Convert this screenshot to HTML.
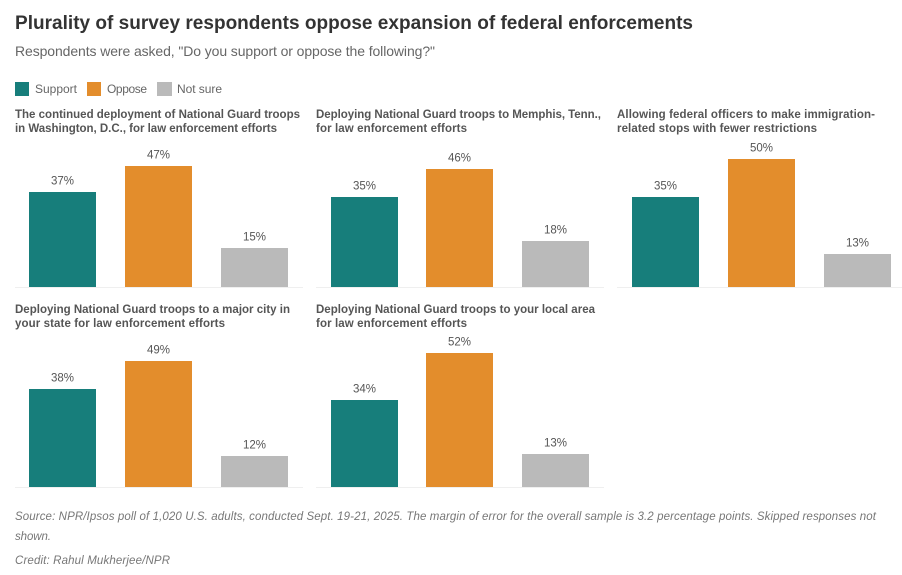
<!DOCTYPE html>
<html>
<head>
<meta charset="utf-8">
<title>Plurality of survey respondents oppose expansion of federal enforcements</title>
<style>
html,body{margin:0;padding:0;background:#fff;}
svg{display:block;font-family:"Liberation Sans",sans-serif;}
</style>
</head>
<body>
<svg id="chart" width="902" height="575" viewBox="0 0 902 575" xmlns="http://www.w3.org/2000/svg">
  <text x="15" y="29" font-size="19" font-weight="700" fill="#333" textLength="678" lengthAdjust="spacing">Plurality of survey respondents oppose expansion of federal enforcements</text>
  <text x="15" y="56" font-size="14" fill="#666" textLength="420" lengthAdjust="spacing">Respondents were asked, "Do you support or oppose the following?"</text>

  <rect x="15" y="82" width="14" height="14" fill="#177e7b"/>
  <text x="35" y="93" font-size="12" fill="#666" textLength="42" lengthAdjust="spacing">Support</text>
  <rect x="87" y="82" width="14" height="14" fill="#e38d2c"/>
  <text x="107" y="93" font-size="12" fill="#666" textLength="40" lengthAdjust="spacing">Oppose</text>
  <rect x="157" y="82" width="15" height="14" fill="#bababa"/>
  <text x="177" y="93" font-size="12" fill="#666" textLength="45" lengthAdjust="spacing">Not sure</text>

  <g font-size="11.5" font-weight="700" fill="#555">
    <text x="15" y="118" textLength="285" lengthAdjust="spacing">The continued deployment of National Guard troops</text>
    <text x="15" y="132" textLength="262" lengthAdjust="spacing">in Washington, D.C., for law enforcement efforts</text>
  </g>
  <g font-size="11.5" font-weight="700" fill="#555">
    <text x="316" y="118" textLength="285" lengthAdjust="spacing">Deploying National Guard troops to Memphis, Tenn.,</text>
    <text x="316" y="132" textLength="151" lengthAdjust="spacing">for law enforcement efforts</text>
  </g>
  <g font-size="11.5" font-weight="700" fill="#555">
    <text x="617" y="118" textLength="258" lengthAdjust="spacing">Allowing federal officers to make immigration-</text>
    <text x="617" y="132" textLength="200" lengthAdjust="spacing">related stops with fewer restrictions</text>
  </g>
  <g font-size="11.5" font-weight="700" fill="#555">
    <text x="15" y="313" textLength="275" lengthAdjust="spacing">Deploying National Guard troops to a major city in</text>
    <text x="15" y="327" textLength="210" lengthAdjust="spacing">your state for law enforcement efforts</text>
  </g>
  <g font-size="11.5" font-weight="700" fill="#555">
    <text x="316" y="313" textLength="279" lengthAdjust="spacing">Deploying National Guard troops to your local area</text>
    <text x="316" y="327" textLength="151" lengthAdjust="spacing">for law enforcement efforts</text>
  </g>

  <g id="plots"></g>

  <g font-size="11.5" font-style="italic" fill="#777">
    <text x="15" y="520" textLength="861" lengthAdjust="spacing">Source: NPR/Ipsos poll of 1,020 U.S. adults, conducted Sept. 19-21, 2025. The margin of error for the overall sample is 3.2 percentage points. Skipped responses not</text>
    <text x="15" y="540" textLength="36" lengthAdjust="spacing">shown.</text>
  </g>
  <text x="15" y="564" font-size="11.5" font-style="italic" fill="#777" textLength="155" lengthAdjust="spacing">Credit: Rahul Mukherjee/NPR</text>
</svg>
<script>
const categories = ['Support', 'Oppose', 'Not sure'];
const washington = [37, 47, 15];
const memphis = [35, 46, 18];
const immigrationStops = [35, 50, 13];
const majorCity = [38, 49, 12];
const localArea = [34, 52, 13];

const NS = 'http://www.w3.org/2000/svg';
const colors = ['#177e7b', '#e38d2c', '#bababa'];
const pxPerPoint = 2.57;
const plotWidth = 288;
const bandStep = 95.8;
const barWidth = 67;
const barInset = 14.6;

function xBand(left, i) { return Math.round(left + barInset + i * bandStep); }
function yValue(baseline, v) { return Math.round(baseline - v * pxPerPoint); }
function slug(s) { return s.toLowerCase().replace(/\s+/g, '-'); }

function drawPanel(parent, key, values, left, baseline) {
  const axis = document.createElementNS(NS, 'rect');
  
  
  axis.setAttribute('x', Math.round(left));
  axis.setAttribute('y', baseline);
  axis.setAttribute('width', plotWidth);
  axis.setAttribute('height', 1);
  axis.setAttribute('fill', '#efefef');
  parent.appendChild(axis);

  values.forEach(function (v, i) {
    const top = yValue(baseline, v);
    const x = xBand(left, i);

    const bar = document.createElementNS(NS, 'rect');
    
    
    bar.setAttribute('x', x);
    bar.setAttribute('y', top);
    bar.setAttribute('width', barWidth);
    bar.setAttribute('height', baseline - top);
    bar.setAttribute('fill', colors[i]);
    parent.appendChild(bar);

    const label = document.createElementNS(NS, 'text');
    
    
    label.setAttribute('x', x + barWidth / 2);
    label.setAttribute('y', top - 7.5);
    label.setAttribute('text-anchor', 'middle');
    label.setAttribute('font-size', '11.5');
    label.setAttribute('fill', '#555');
    label.textContent = v + '%';
    parent.appendChild(label);
  });
}

const plots = document.getElementById('plots');
drawPanel(plots, 'washington', washington, 14.7, 287);
drawPanel(plots, 'memphis', memphis, 316, 287);
drawPanel(plots, 'immigration-stops', immigrationStops, 617.4, 287);
drawPanel(plots, 'major-city', majorCity, 14.7, 487);
drawPanel(plots, 'local-area', localArea, 316, 487);
</script>
</body>
</html>
